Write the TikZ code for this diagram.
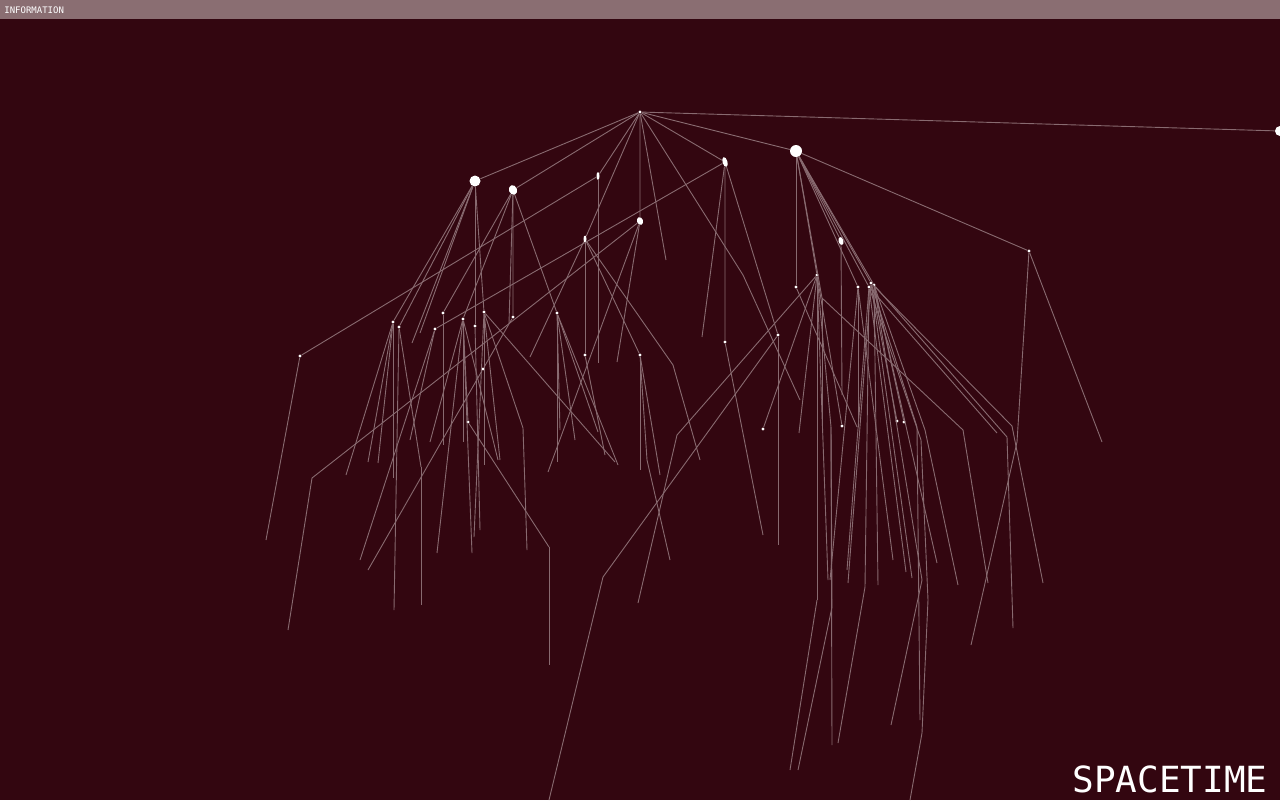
\documentclass[tikz,border=0pt]{standalone}
\usepackage{fontspec}
\usetikzlibrary{shapes.geometric}
\definecolor{bgcol}{RGB}{51,6,16}
\definecolor{barcol}{RGB}{138,110,114}
\definecolor{wirecol}{RGB}{136,106,112}
\newfontfamily\monofont{DejaVu Sans Mono}

\begin{document}
\begin{tikzpicture}[x=0.5pt,y=-0.5pt,
  wire/.style={draw=wirecol,line width=0.45pt},
  event/.style={circle,fill=white,inner sep=0pt,minimum size=1.6pt},
  blob/.style={ellipse,fill=white,inner sep=0pt}]
\fill[bgcol] (0,0) rectangle (1280,800);
\useasboundingbox (0,0) rectangle (1280,800);
\fill[barcol] (0,0) rectangle (1280,19);
\node[anchor=west,text=white,inner sep=0pt,font=\monofont\fontsize{4.5}{4.5}\selectfont] (title) at (4,10) {INFORMATION};
\node[anchor=base east,text=white,inner sep=0pt,font=\monofont\fontsize{18}{18}\selectfont] (name) at (1268,792) {SPACETIME};

\node[blob,minimum width=5.5pt,minimum height=5.5pt] (a1) at (475,181) {};
\node[blob,minimum width=4pt,minimum height=5pt,rotate=20] (a2) at (513,190) {};
\node[blob,minimum width=1.5pt,minimum height=4pt] (a3) at (598,176) {};
\node[blob,minimum width=2.5pt,minimum height=5pt,rotate=15] (a4) at (725,162) {};
\node[blob,minimum width=6pt,minimum height=6pt] (a5) at (796,151) {};
\node[blob,minimum width=5pt,minimum height=5pt] (a6) at (1280,131) {};
\node[blob,minimum width=3pt,minimum height=4pt,rotate=20] (c) at (640,221) {};
\node[blob,minimum width=1.5pt,minimum height=3.5pt] (b1) at (585,239) {};
\node[blob,minimum width=2.5pt,minimum height=4pt,rotate=15] (a7) at (841,241) {};

\foreach \n/\x/\y in {r/640/112,e/1029/251,f/817/275,h/796/287,g1/858/287,g2/869/287,
  g3/871/283,g4/874/285,l1/393/322,l2/399/327,l3/443/313,l4/463/319,l5/484/312,
  l6/475/326,l7/435/329,l8/513/317,l9/557/313,w/300/356,m/778/335,p1/725/342,
  q1/640/355,q2/585/355,s1/468/422,s2/483/369,t1/763/429,t2/842/426,t3/897/421,t4/904/422}
  \node[event] (\n) at (\x,\y) {};

\foreach \n/\x/\y in {u1/666/260,k1/743/275,u2/800/400,u3/412/343,u4/420/333,u5/598/363,
  u6/266/540,u7/702/337,u8/778/545,k2/603/577,u9/549/800,u10/617/362,k3/312/478,
  u11/288/630,u12/530/357,k4/673/365,u13/700/460,u14/842/395,k5/822/298,k6/963/430,
  u15/988/583,u16/822/425,u17/1102/442,k7/1017/442,u18/971/645,k8/677/435,u19/638/603,
  u20/799/433,k9/817/600,u21/790/770,k10/831/427,u22/832/745,k11/832/607,u23/798/770,
  u24/828/580,u25/857/427,u26/858/427,k12/1012/426,u27/1043/583,k13/1007/437,
  u28/1013/628,u29/997/433,u30/906/572,u31/893/560,u32/912/578,u33/937/563,
  k14/925/430,u34/958/585,k15/917/427,u35/920/720,k16/921/440,k17/928/600,
  k18/922/733,u36/910/800,k19/922/580,u37/891/725,u38/830/580,u39/847/570,
  u40/848/583,u41/878/585,k20/865/587,u42/838/743,u44/346/475,u45/368/462,
  u46/378/463,u47/393/478,u48/394/610,k21/421/467,u49/421/605,u50/360/560,
  u51/410/440,u52/443/445,u53/430/442,u54/463/442,u55/498/460,u56/437/553,
  u57/472/553,u58/484/465,k22/523/428,u59/527/550,u60/474/537,u61/500/460,
  u63/368/570,k23/549/547,u64/549/665,u65/557/462,u66/598/432,u67/618/465,
  u68/548/472,u69/575/440,u70/640/470,u71/660/475,k24/647/460,u72/670/560,
  u73/605/455,u74/615/462,u75/763/535,u76/509/323,u77/480/530,u78/560/430}
  \coordinate (\n) at (\x,\y);

\foreach \a/\b in {r/a1,r/a2,r/a3,r/a4,r/a5,r/a6,r/c,r/b1,r/u1,r/k1,k1/u2,
  a1/l1,a1/l2,a1/u3,a1/u4,a1/l6,a1/l5,a2/l3,a2/l4,a2/l8,a2/l9,a2/u76,
  a3/u5,a3/w,w/u6,a4/l7,a4/u7,a4/p1,p1/u75,a4/m,m/u8,m/k2,k2/u9,
  c/u10,c/k3,k3/u11,c/u68,b1/u12,b1/q1,b1/q2,b1/k4,k4/u13,
  a5/h,a5/f,a5/g1,a5/g2,a5/g3,a5/g4,a5/e,a5/a7,a5/k5,a7/u14,k5/k6,k6/u15,k5/u16,
  e/u17,e/k7,k7/u18,f/k8,k8/u19,f/u20,f/k9,k9/u21,f/k10,k10/u22,k10/k11,k11/u23,
  f/u24,f/t1,f/t2,h/u25,g1/u26,g3/k12,k12/u27,g4/k13,k13/u28,g2/u29,g2/u30,
  g1/u31,g3/u32,g4/u33,g4/k14,k14/u34,g3/k15,k15/u35,g2/k16,k16/k17,k17/k18,
  k18/u36,g4/k19,k19/u37,g1/u38,g2/u39,g3/u40,g4/u41,g2/k20,k20/u42,g3/t3,g4/t4,
  l1/u44,l1/u45,l1/u46,l1/u47,l2/u48,l2/k21,k21/u49,l7/u50,l7/u51,l3/u52,
  l4/u53,l4/u54,l4/u55,l4/u56,l4/u57,l4/s1,l5/u58,l5/k22,k22/u59,l5/u60,l5/u61,
  l5/u74,l6/u77,l8/s2,s2/u63,s1/k23,k23/u64,l9/u65,l9/u66,l9/u67,l9/u69,l9/u78,
  q1/u70,q1/u71,q1/k24,k24/u72,q2/u73}
  \draw[wire] (\a) -- (\b);
\end{tikzpicture}
\end{document}
